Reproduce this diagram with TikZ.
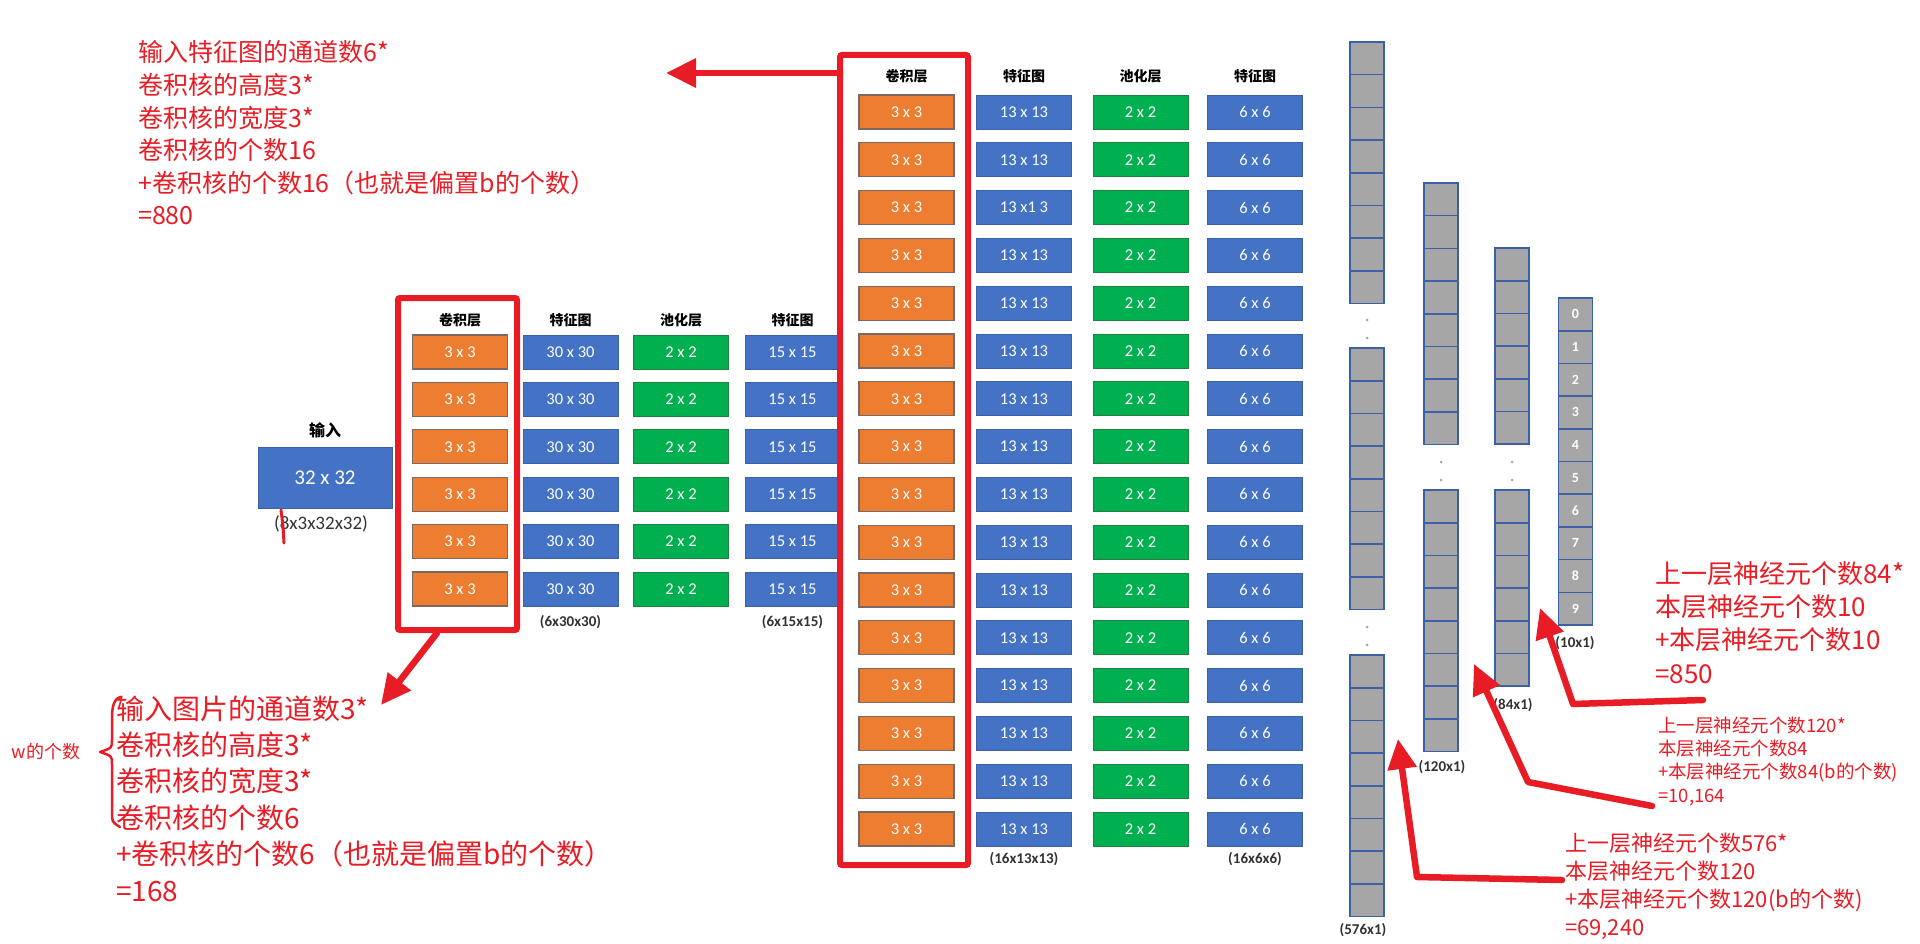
\documentclass[tikz,border=0pt]{standalone}
\usepackage{fontspec}
\setmainfont{Carlito}
\newfontfamily\cjk{Noto Sans CJK SC}
\usetikzlibrary{arrows.meta}
\definecolor{corange}{RGB}{237,125,49}
\definecolor{cblue}{RGB}{68,114,196}
\definecolor{cgreen}{RGB}{0,176,80}
\definecolor{cgray}{RGB}{166,166,166}
\definecolor{cred}{RGB}{232,28,36}
\definecolor{cedge}{RGB}{60,95,165}
\definecolor{oedge}{RGB}{125,105,100}
\definecolor{gedge}{RGB}{30,130,60}
\definecolor{ctext}{RGB}{50,50,50}
\begin{document}
\begin{tikzpicture}[x=1pt,y=-1pt,
  cell/.style={rectangle, inner sep=0pt, minimum width=95pt, minimum height=34pt, text=white, font=\fontsize{16.5}{18}\selectfont},
  kern/.style={cell, fill=corange, draw=oedge, line width=1.2pt},
  fmap/.style={cell, fill=cblue, draw=cedge, line width=0.8pt},
  pool/.style={cell, fill=cgreen, draw=gedge, line width=0.8pt},
  head/.style={font=\cjk\bfseries\fontsize{14}{16}\selectfont, inner sep=0pt},
  dimlabel/.style={font=\bfseries\fontsize{15}{17}\selectfont, inner sep=0pt, text=ctext},
  neuron/.style={rectangle, inner sep=0pt, minimum width=34pt, minimum height=32.7pt, fill=cgray, draw=cedge, line width=1.6pt, text=white, font=\bfseries\fontsize{14}{16}\selectfont},
  redframe/.style={draw=cred, line width=6pt, rounded corners=2pt, inner sep=0pt},
  redarrow/.style={draw=cred, line width=6.5pt, -{Triangle[length=30pt,width=28pt]}, line join=round, line cap=round},
  note/.style={text=cred, inner sep=0pt, anchor=base west, align=left},
  smalldot/.style={circle, fill=gray!70, inner sep=0pt, minimum size=3pt}
]
\useasboundingbox (0,0) rectangle (1920,944);

% ---------- input ----------
\node[head, font=\cjk\bfseries\fontsize{16}{18}\selectfont] (inhead) at (325,430) {输入};
\node[fmap, minimum width=134pt, minimum height=61pt, font=\fontsize{21}{24}\selectfont] (in) at (325,477.5) {32 x 32};
\node[inner sep=0pt, text=ctext, font=\fontsize{19}{21}\selectfont] (inlbl) at (321,524) {(8x3x32x32)};
\draw[cred, line width=3pt, line cap=round] (281,510) .. controls (283,525) .. (284,543);

% ---------- first conv block ----------
\node[head] (h1) at (460,320) {卷积层};
\node[head] (h2) at (570.5,320) {特征图};
\node[head] (h3) at (681,320) {池化层};
\node[head] (h4) at (792.5,320) {特征图};
\foreach \i [evaluate=\i as \yy using {352+47.4*\i}] in {0,...,5} {
  \node[kern] (k1-\i) at (460,\yy) {3 x 3};
  \node[fmap] (f1-\i) at (570.5,\yy) {30 x 30};
  \node[pool] (p1-\i) at (681,\yy) {2 x 2};
  \node[fmap] (g1-\i) at (792.5,\yy) {15 x 15};
}
\node[dimlabel] (d1) at (570.5,622) {(6x30x30)};
\node[dimlabel] (d2) at (792.5,622) {(6x15x15)};
\node[redframe, minimum width=119pt, minimum height=332pt] (box1) at (457.5,464) {};

% ---------- second conv block ----------
\node[head] (h5) at (906.5,76) {卷积层};
\node[head] (h6) at (1024,76) {特征图};
\node[head] (h7) at (1140.5,76) {池化层};
\node[head] (h8) at (1255,76) {特征图};
\foreach \i [evaluate=\i as \yy using {112+47.8*\i}] in {0,...,15} {
  \node[kern] (k2-\i) at (906.5,\yy) {3 x 3};
  \ifnum\i=2
    \node[fmap] (f2-\i) at (1024,\yy) {13 x1 3};
  \else
    \node[fmap] (f2-\i) at (1024,\yy) {13 x 13};
  \fi
  \node[pool] (p2-\i) at (1140.5,\yy) {2 x 2};
  \node[fmap] (g2-\i) at (1255,\yy) {6 x 6};
}
\node[dimlabel] (d3) at (1024,859) {(16x13x13)};
\node[dimlabel] (d4) at (1255,859) {(16x6x6)};
\node[redframe, minimum width=128pt, minimum height=810pt] (box2) at (904,460) {};

% ---------- fully connected vectors ----------
\foreach \s in {42,348,655} {
  \foreach \j in {0,...,7} {
    \node[neuron] (n576-\s-\j) at (1367,{\s+16.35+32.7*\j}) {};
  }
}
\node[smalldot] (dA1) at (1367,320) {};
\node[smalldot] (dA2) at (1367,338) {};
\node[smalldot] (dA3) at (1367,627) {};
\node[smalldot] (dA4) at (1367,645) {};
\node[dimlabel] (d5) at (1363,930) {(576x1)};

\foreach \s in {183,490} {
  \foreach \j in {0,...,7} {
    \node[neuron] (n120-\s-\j) at (1441,{\s+16.35+32.7*\j}) {};
  }
}
\node[smalldot] (dB1) at (1441,462) {};
\node[smalldot] (dB2) at (1441,480) {};
\node[dimlabel] (d6) at (1442,767) {(120x1)};

\foreach \s in {248,490} {
  \foreach \j in {0,...,5} {
    \node[neuron] (n84-\s-\j) at (1512,{\s+16.35+32.7*\j}) {};
  }
}
\node[smalldot] (dC1) at (1512,462) {};
\node[smalldot] (dC2) at (1512,480) {};
\node[dimlabel] (d7) at (1513,705) {(84x1)};

\foreach \j in {0,...,9} {
  \node[neuron] (n10-\j) at (1575.5,{298+16.35+32.7*\j}) {\j};
}
\node[dimlabel] (d8) at (1575,643) {(10x1)};

% ---------- annotations (anchor = baseline of last line) ----------
\node[note, font=\cjk\fontsize{25}{32.6}\selectfont] (t1) at (138,225)
  {输入特征图的通道数6*\\卷积核的高度3*\\卷积核的宽度3*\\卷积核的个数16\\+卷积核的个数16（也就是偏置b的个数）\\=880};
\coordinate (a1s) at (840,73);
\coordinate (a1e) at (666,73);
\draw[redarrow] (a1s) -- (a1e);

\node[note, font=\cjk\fontsize{28}{36.4}\selectfont] (t2) at (116,901)
  {输入图片的通道数3*\\卷积核的高度3*\\卷积核的宽度3*\\卷积核的个数6\\+卷积核的个数6（也就是偏置b的个数）\\=168};
\coordinate (a2s) at (437,633);
\coordinate (a2e) at (381,705);
\draw[redarrow] (a2s) -- (a2e);
\draw[cred, line width=2.5pt, line cap=round, line join=round]
  (120,697) .. controls (113,700) and (112,708) .. (112,720) -- (112,740)
  .. controls (112,748) .. (100,752) .. controls (112,756) .. (112,764)
  -- (112,812) .. controls (112,822) .. (120,827);
\node[text=cred, inner sep=0pt, font=\cjk\fontsize{18}{20}\selectfont] (wlbl) at (46,752) {w的个数};

\node[note, font=\cjk\fontsize{26}{33.3}\selectfont] (t3) at (1655,683)
  {上一层神经元个数84*\\本层神经元个数10\\+本层神经元个数10\\=850};
\coordinate (a3s) at (1703,700);
\coordinate (a3m) at (1573,704);
\coordinate (a3e) at (1540,608);
\draw[redarrow] (a3s) -- (a3m) -- (a3e);

\node[note, font=\cjk\fontsize{18.5}{23.3}\selectfont] (t4) at (1658,802)
  {上一层神经元个数120*\\本层神经元个数84\\+本层神经元个数84(b的个数)\\=10,164};
\coordinate (a4s) at (1652,806);
\coordinate (a4m) at (1528,782);
\coordinate (a4e) at (1474,664);
\draw[redarrow] (a4s) -- (a4m) -- (a4e);

\node[note, font=\cjk\fontsize{22}{28}\selectfont] (t5) at (1565,935)
  {上一层神经元个数576*\\本层神经元个数120\\+本层神经元个数120(b的个数)\\=69,240};
\coordinate (a5s) at (1562,880);
\coordinate (a5m) at (1417,877);
\coordinate (a5e) at (1398,739);
\draw[redarrow] (a5s) -- (a5m) -- (a5e);
\end{tikzpicture}
\end{document}
